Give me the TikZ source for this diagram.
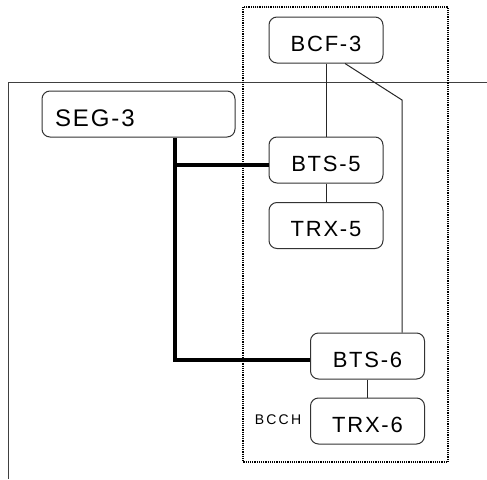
\documentclass[tikz,border=0pt]{standalone}
\usepackage{fontspec}
\setmainfont{Liberation Sans}
\newfontfamily\boxfont[LetterSpace=8]{Liberation Sans}
\newfontfamily\tagfont[LetterSpace=16]{Liberation Sans}
\usetikzlibrary{positioning,calc}
\tikzset{
  box/.style   = {draw=black!80, line width=1pt, fill=white, minimum width=114pt,
                  minimum height=46pt, rounded corners=8pt, inner sep=0pt,
                  text height=22pt, text depth=0pt,
                  font=\boxfont\fontsize{22}{26}\selectfont},
  wire/.style  = {line width=1pt, black!85},
  trunk/.style = {line width=3.6pt, black},
  frame/.style = {line width=1pt, black!75},
  group/.style = {line width=1.2pt, densely dotted, black},
}

\begin{document}
\begin{tikzpicture}[x=1pt,y=-1pt]
  \useasboundingbox (0,0) rectangle (487,479);
  % outer frame and group
  \draw[frame] (487,82) -- (8,82) -- (8,479);
  \draw[group] (243,7) rectangle (448,462);

  % units
  \node[box] (bcf) at (326,40) {BCF-3};
  \node[box] (bts5) at (326,160) {BTS-5};
  \node[box] (trx5) at (326,225.5) {TRX-5};
  \node[box] (bts6) at (367.5,356) {BTS-6};
  \node[box] (trx6) at (367.5,421) {TRX-6};
  \node[box, minimum width=193pt, text width=167pt, inner xsep=13pt, align=left,
        text height=25pt, font=\boxfont\fontsize{24}{28}\selectfont]
      (seg) at (138.5,114) {SEG-3};
  \node[font=\tagfont\fontsize{14}{16}\selectfont] (bcch) at (278,420) {BCCH};

  % links
  \draw[wire] (bcf) -- (bts5);
  \draw[wire] (bts5) -- (trx5);
  \draw[wire] (bts6) -- (trx6);
  \coordinate (bend) at (402,100);
  \draw[wire] ([xshift=19pt]bcf.south) -- (bend) -- (bend |- bts6.north);

  % abis
  \coordinate (j5) at ([xshift=36.5pt]seg.south |- 0,165);
  \draw[trunk] ([xshift=36.5pt]seg.south) |- ([yshift=-4pt]bts6.west);
  \draw[trunk] (j5) -- ([yshift=-5pt]bts5.west);
\end{tikzpicture}
\end{document}
